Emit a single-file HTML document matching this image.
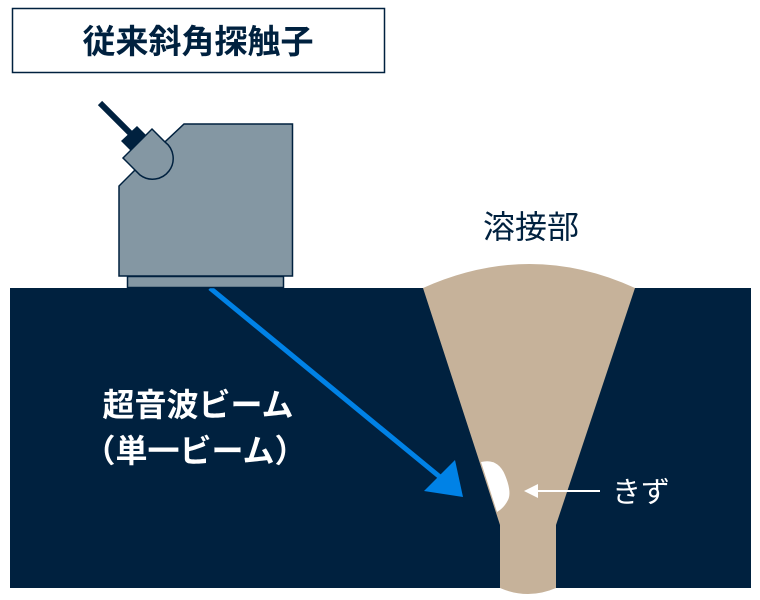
<!DOCTYPE html>
<html><head><meta charset="utf-8"><style>
body{margin:0;background:#fff;}
svg{display:block;font-family:"Liberation Sans","Noto Sans CJK JP",sans-serif;}
</style></head><body>
<svg width="760" height="600" viewBox="0 0 760 600">
<rect x="12.5" y="8.5" width="372" height="64" fill="#fff" stroke="#00213f" stroke-width="1.5"/>
<text x="198" y="53" font-size="33" font-weight="bold" fill="#00213f" text-anchor="middle">従来斜角探触子</text>
<rect x="10" y="288" width="741" height="300" fill="#00213f"/>
<path d="M423,288 Q530,240 635,288 L556,525 L556,588 Q528,600 500,588 L500,525 Z" fill="#c6b29a"/>
<path d="M481,462 Q498,458 505,475 Q512,492 508,500 Q504,508 497,512 Z" fill="#fff"/>
<line x1="600" y1="491" x2="535" y2="491" stroke="#fff" stroke-width="2"/>
<polygon points="524,491 538,484 538,498" fill="#fff"/>
<text x="612" y="502" font-size="29" fill="#fff">きず</text>
<text x="531" y="238" font-size="32" fill="#00213f" text-anchor="middle">溶接部</text>
<text x="198" y="416" font-size="32" font-weight="bold" fill="#fff" text-anchor="middle">超音波ビーム</text>
<text x="195" y="462" font-size="32" font-weight="bold" fill="#fff" text-anchor="middle">（単一ビーム）</text>
<line x1="210" y1="288" x2="440" y2="477" stroke="#0082e6" stroke-width="5"/>
<polygon points="463,497 424,491 455,460" fill="#0082e6"/>
<rect x="127.5" y="276.5" width="156" height="11" fill="#8497a3" stroke="#00213f" stroke-width="1.5"/>
<polygon points="184,124 292.5,124 292.5,276 119,276 119,186 135,170" fill="#8497a3" stroke="#00213f" stroke-width="1.5"/>
<line x1="100" y1="103" x2="130" y2="133" stroke="#00213f" stroke-width="6"/>
<polygon points="121,141 137,126 150,139 134,154" fill="#00213f"/>
<path d="M123,158 L152,129 L165,142 A18,18 0 0 1 140,175 Z" fill="#8497a3" stroke="#00213f" stroke-width="1.5"/>
</svg>
</body></html>
